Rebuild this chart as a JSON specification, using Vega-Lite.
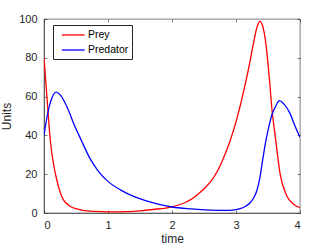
{
  "$schema": "https://vega.github.io/schema/vega-lite/v6.json",
  "width": 256,
  "height": 194,
  "autosize": {"type": "none"},
  "padding": {"left": 44, "top": 19, "right": 32, "bottom": 36},
  "background": "white",
  "config": {
    "view": {"stroke": "#262626", "strokeWidth": 0.6},
    "font": "Liberation Sans",
    "axis": {
      "grid": false,
      "domainColor": "#262626",
      "domainWidth": 0.6,
      "tickColor": "#262626",
      "tickWidth": 0.6,
      "tickSize": -3,
      "labelColor": "#262626",
      "labelFont": "Liberation Sans",
      "labelFontSize": 11,
      "titleFont": "Liberation Sans",
      "titleFontSize": 12,
      "titleFontWeight": "normal",
      "titleColor": "#262626"
    }
  },
  "data": {
    "values": [
      {"t": 0, "v": 80, "s": "Prey"},
      {"t": 0.05, "v": 58, "s": "Prey"},
      {"t": 0.1, "v": 37, "s": "Prey"},
      {"t": 0.15, "v": 25, "s": "Prey"},
      {"t": 0.2, "v": 17, "s": "Prey"},
      {"t": 0.25, "v": 11, "s": "Prey"},
      {"t": 0.3, "v": 7, "s": "Prey"},
      {"t": 0.35, "v": 5, "s": "Prey"},
      {"t": 0.4, "v": 3.6, "s": "Prey"},
      {"t": 0.5, "v": 2.2, "s": "Prey"},
      {"t": 0.6, "v": 1.4, "s": "Prey"},
      {"t": 0.8, "v": 0.8, "s": "Prey"},
      {"t": 1.0, "v": 0.6, "s": "Prey"},
      {"t": 1.3, "v": 0.7, "s": "Prey"},
      {"t": 1.5, "v": 1.1, "s": "Prey"},
      {"t": 1.7, "v": 1.8, "s": "Prey"},
      {"t": 2.0, "v": 3.2, "s": "Prey"},
      {"t": 2.2, "v": 5.3, "s": "Prey"},
      {"t": 2.3, "v": 7, "s": "Prey"},
      {"t": 2.4, "v": 9.5, "s": "Prey"},
      {"t": 2.5, "v": 12.5, "s": "Prey"},
      {"t": 2.6, "v": 16, "s": "Prey"},
      {"t": 2.7, "v": 21, "s": "Prey"},
      {"t": 2.8, "v": 28, "s": "Prey"},
      {"t": 2.9, "v": 36.5, "s": "Prey"},
      {"t": 3.0, "v": 47, "s": "Prey"},
      {"t": 3.1, "v": 60, "s": "Prey"},
      {"t": 3.2, "v": 75, "s": "Prey"},
      {"t": 3.27, "v": 87, "s": "Prey"},
      {"t": 3.33, "v": 96, "s": "Prey"},
      {"t": 3.375, "v": 98.8, "s": "Prey"},
      {"t": 3.42, "v": 96, "s": "Prey"},
      {"t": 3.46, "v": 89, "s": "Prey"},
      {"t": 3.5, "v": 77, "s": "Prey"},
      {"t": 3.53, "v": 66, "s": "Prey"},
      {"t": 3.56, "v": 54, "s": "Prey"},
      {"t": 3.6, "v": 43, "s": "Prey"},
      {"t": 3.63, "v": 35, "s": "Prey"},
      {"t": 3.69, "v": 20, "s": "Prey"},
      {"t": 3.79, "v": 9, "s": "Prey"},
      {"t": 3.9, "v": 4.5, "s": "Prey"},
      {"t": 4.0, "v": 2.8, "s": "Prey"},
      {"t": 0, "v": 40, "s": "Predator"},
      {"t": 0.05, "v": 50, "s": "Predator"},
      {"t": 0.1, "v": 57, "s": "Predator"},
      {"t": 0.19, "v": 62.3, "s": "Predator"},
      {"t": 0.25, "v": 61, "s": "Predator"},
      {"t": 0.33, "v": 56.7, "s": "Predator"},
      {"t": 0.4, "v": 51.5, "s": "Predator"},
      {"t": 0.46, "v": 46.4, "s": "Predator"},
      {"t": 0.59, "v": 37, "s": "Predator"},
      {"t": 0.72, "v": 28, "s": "Predator"},
      {"t": 0.85, "v": 21.5, "s": "Predator"},
      {"t": 1.0, "v": 16.3, "s": "Predator"},
      {"t": 1.2, "v": 11.8, "s": "Predator"},
      {"t": 1.4, "v": 8.6, "s": "Predator"},
      {"t": 1.6, "v": 6.3, "s": "Predator"},
      {"t": 1.8, "v": 4.5, "s": "Predator"},
      {"t": 2.0, "v": 3.1, "s": "Predator"},
      {"t": 2.3, "v": 2.1, "s": "Predator"},
      {"t": 2.6, "v": 1.5, "s": "Predator"},
      {"t": 2.8, "v": 1.35, "s": "Predator"},
      {"t": 2.95, "v": 1.5, "s": "Predator"},
      {"t": 3.05, "v": 2.1, "s": "Predator"},
      {"t": 3.15, "v": 3.5, "s": "Predator"},
      {"t": 3.22, "v": 5.3, "s": "Predator"},
      {"t": 3.28, "v": 8, "s": "Predator"},
      {"t": 3.33, "v": 12, "s": "Predator"},
      {"t": 3.375, "v": 18.5, "s": "Predator"},
      {"t": 3.42, "v": 28, "s": "Predator"},
      {"t": 3.46, "v": 36, "s": "Predator"},
      {"t": 3.51, "v": 44, "s": "Predator"},
      {"t": 3.56, "v": 50.5, "s": "Predator"},
      {"t": 3.62, "v": 55, "s": "Predator"},
      {"t": 3.68, "v": 57.9, "s": "Predator"},
      {"t": 3.74, "v": 56.5, "s": "Predator"},
      {"t": 3.84, "v": 51.6, "s": "Predator"},
      {"t": 3.92, "v": 45, "s": "Predator"},
      {"t": 4.0, "v": 39, "s": "Predator"}
    ]
  },
  "layer": [
    {
      "mark": {"type": "line", "interpolate": "monotone", "strokeWidth": 1.3, "clip": true},
      "encoding": {
        "x": {"field": "t", "type": "quantitative", "scale": {"domain": [0, 4], "nice": false}, "axis": {"values": [0, 1, 2, 3, 4], "title": "time", "labelPadding": 9, "titlePadding": 3}},
        "y": {"field": "v", "type": "quantitative", "scale": {"domain": [0, 100], "nice": false}, "axis": {"values": [0, 20, 40, 60, 80, 100], "title": "Units", "labelPadding": 10, "titlePadding": 5}},
        "color": {
          "field": "s", "type": "nominal",
          "scale": {"domain": ["Prey", "Predator"], "range": ["#ff0000", "#0000ff"]},
          "legend": {
            "title": null,
            "orient": "none",
            "legendX": 9,
            "legendY": 6,
            "symbolType": "M-0.2,0H3.6",
            "symbolSize": 144,
            "symbolStrokeWidth": 1.3,
            "symbolFillColor": "transparent",
            "labelFontSize": 10.5,
            "labelFont": "Liberation Sans",
            "labelColor": "#000000",
            "labelOffset": 18,
            "rowPadding": 2,
            "padding": 3,
            "strokeColor": "#262626",
            "fillColor": "white",
            "cornerRadius": 0
          }
        }
      }
    },
    {
      "mark": {"type": "line", "strokeOpacity": 0},
      "encoding": {
        "x": {"field": "t", "type": "quantitative", "axis": {"orient": "top", "values": [0, 1, 2, 3, 4], "labels": false, "title": null, "domain": false}},
        "y": {"field": "v", "type": "quantitative", "axis": {"orient": "right", "values": [0, 20, 40, 60, 80, 100], "labels": false, "title": null, "domain": false}},
        "detail": {"field": "s"}
      }
    }
  ],
  "resolve": {"axis": {"x": "independent", "y": "independent"}}
}
